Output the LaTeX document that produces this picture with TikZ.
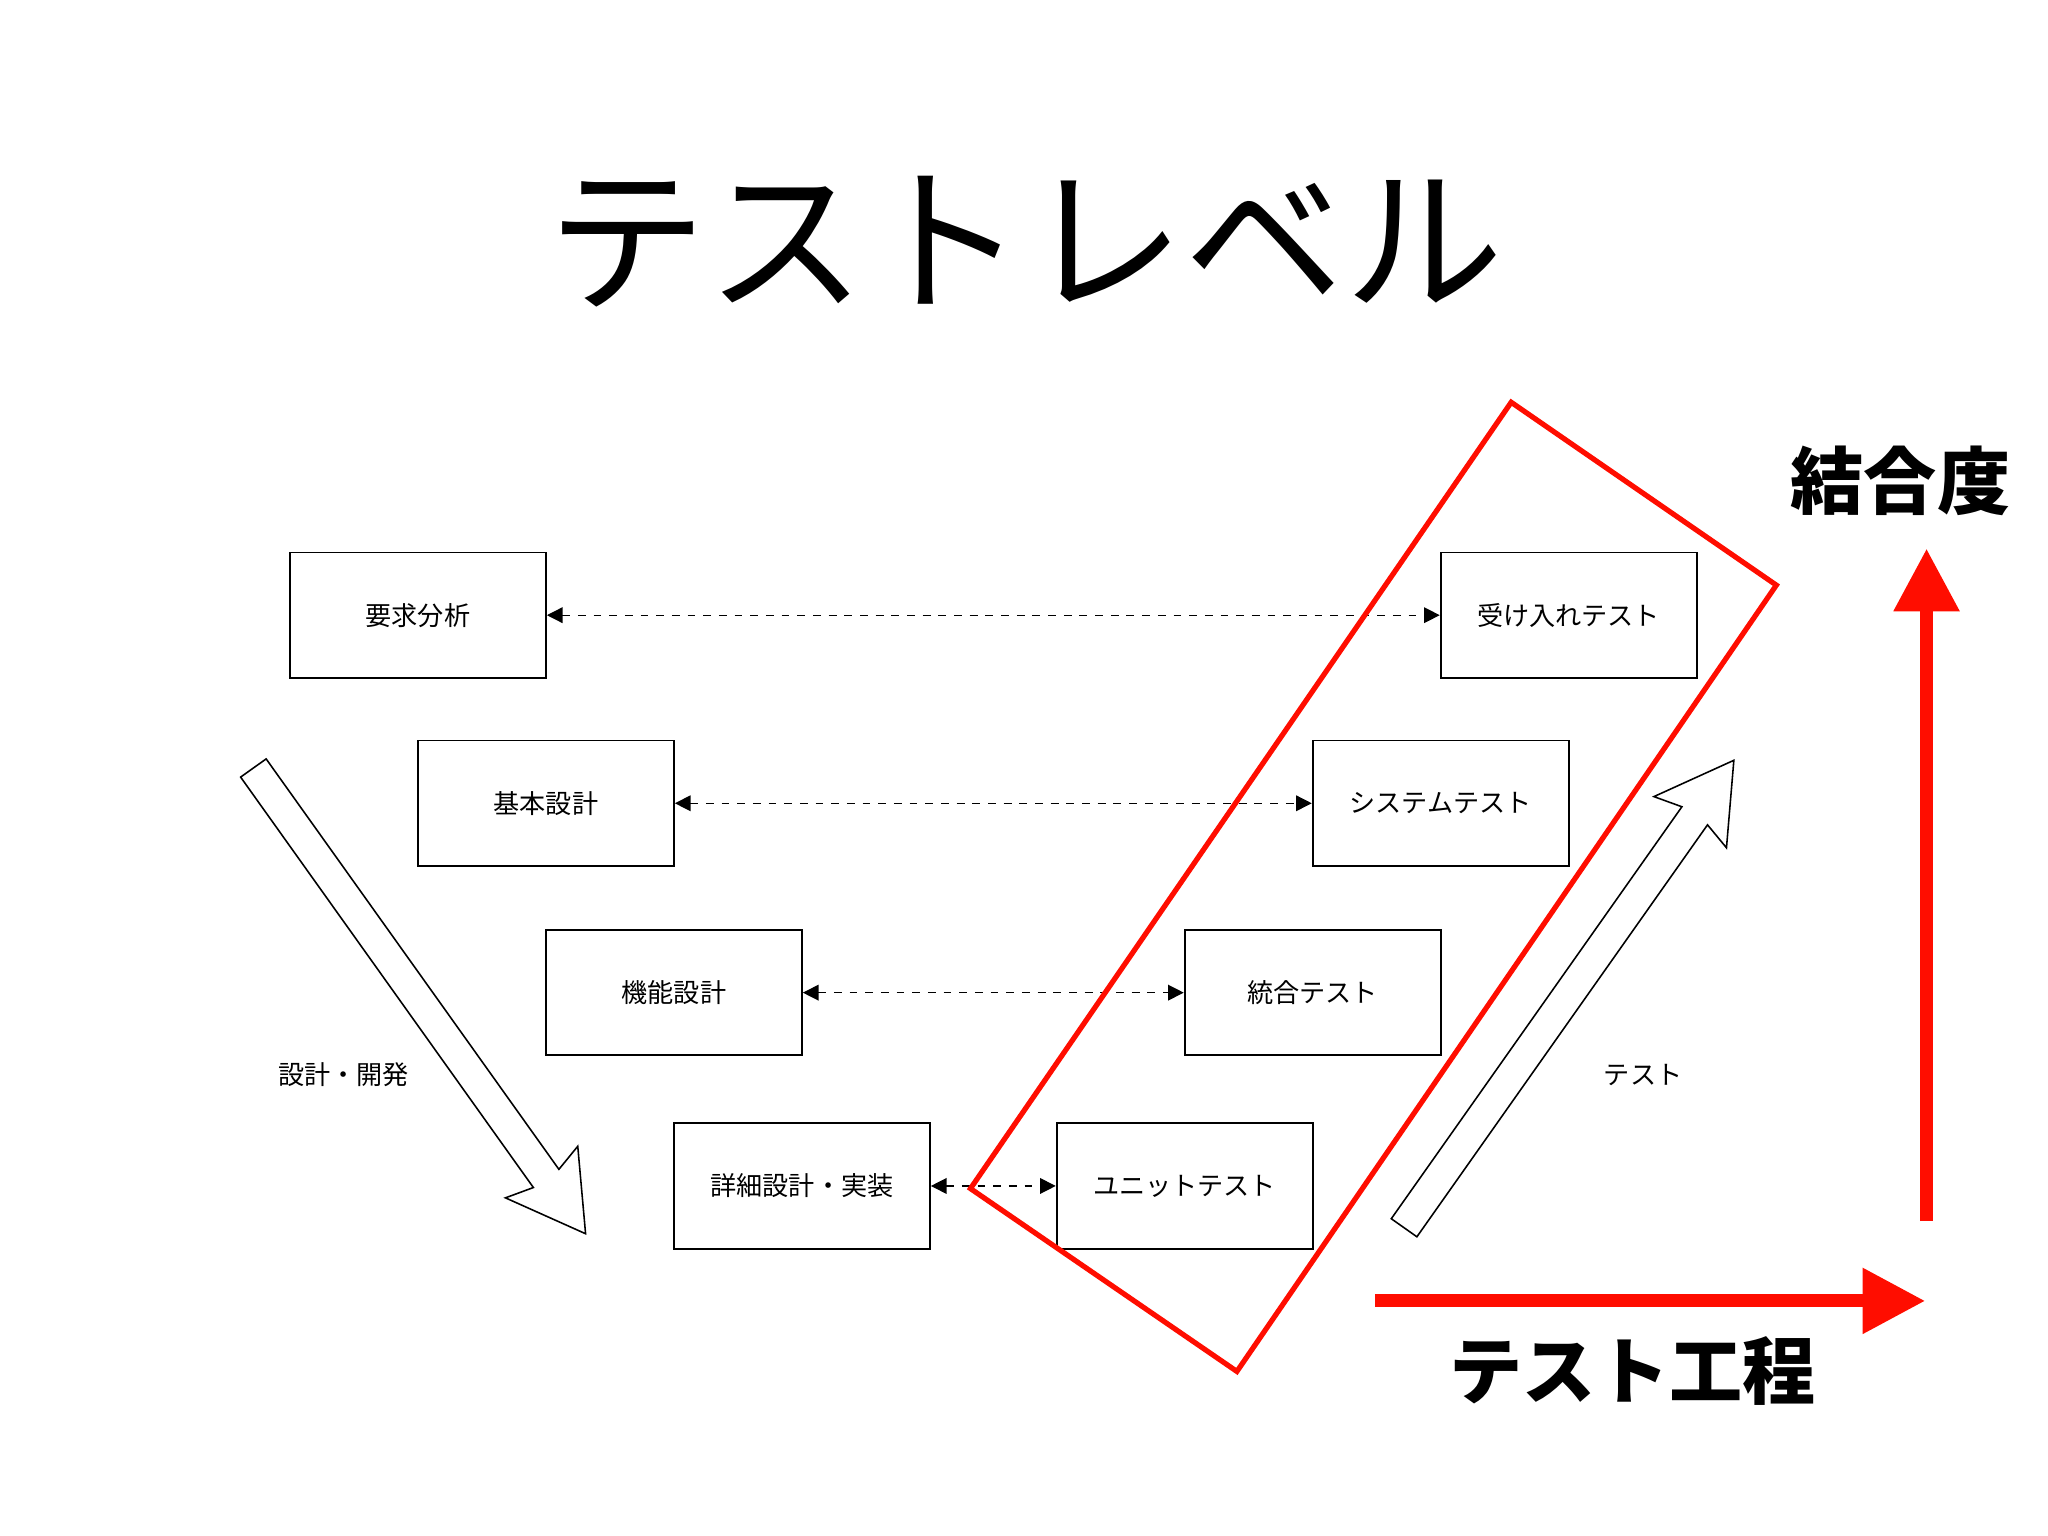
\documentclass[tikz,border=0pt]{standalone}
\usepackage{fontspec}
\setmainfont{Noto Sans CJK JP}
\usetikzlibrary{arrows.meta}
\begin{document}
\begin{tikzpicture}[x=0.5pt,y=-0.5pt,
  bx/.style={draw,line width=0.7pt,minimum width=98pt,minimum height=48pt,inner sep=0pt,font=\fontsize{10}{12}\selectfont},
  dl/.style={dashed,line width=0.5pt,{Triangle[length=6pt,width=6pt]}-{Triangle[length=6pt,width=6pt]}},
  hollow/.style={draw,line width=0.6pt,fill=white},
  redarr/.style={draw=red!90!orange,line width=5pt,-{Triangle[length=24pt,width=24pt]}}]
\useasboundingbox (0,0) rectangle (1568,1176);
\node (title) at (785,185) {\fontsize{61}{64}\selectfont テストレベル};
\node[bx] (a1) at (320,471) {要求分析};
\node[bx] (a2) at (418,615) {基本設計};
\node[bx] (a3) at (516,760) {機能設計};
\node[bx] (a4) at (614,908) {詳細設計・実装};
\node[bx] (b1) at (1201,471) {受け入れテスト};
\node[bx] (b2) at (1103,615) {システムテスト};
\node[bx] (b3) at (1005,760) {統合テスト};
\node[bx] (b4) at (907,908) {ユニットテスト};
\draw[dl] (a1) -- (b1);
\draw[dl] (a2) -- (b2);
\draw[dl] (a3) -- (b3);
\draw[dl] (a4) -- (b4);
\draw[red!90!orange,line width=2pt] (1157,308) -- (1360,448) -- (947,1050) -- (743,910) -- cycle;
\begin{scope}[shift={(194,588)},rotate=-54.5]
\draw[hollow] (0,-12) -- (386,-12) -- (380,-34) -- (438,0) -- (380,34) -- (386,12) -- (0,12) -- cycle;
\end{scope}
\begin{scope}[shift={(1075,940)},rotate=54.8]
\draw[hollow] (0,-12) -- (386,-12) -- (380,-34) -- (438,0) -- (380,34) -- (386,12) -- (0,12) -- cycle;
\end{scope}
\node[font=\fontsize{10}{12}\selectfont] (l1) at (263,823) {設計・開発};
\node[font=\fontsize{10}{12}\selectfont] (l2) at (1258,823) {テスト};
\coordinate (h0) at (1053,996); \coordinate (h1) at (1474,996);
\coordinate (v0) at (1475,935); \coordinate (v1) at (1475,420);
\draw[redarr] (h0) -- (h1);
\draw[redarr] (v0) -- (v1);
\node[font=\fontsize{28}{32}\selectfont\bfseries] (k) at (1455,368) {結合度};
\node[font=\fontsize{28}{32}\selectfont\bfseries] (t) at (1250,1050) {テスト工程};
\end{tikzpicture}
\end{document}
